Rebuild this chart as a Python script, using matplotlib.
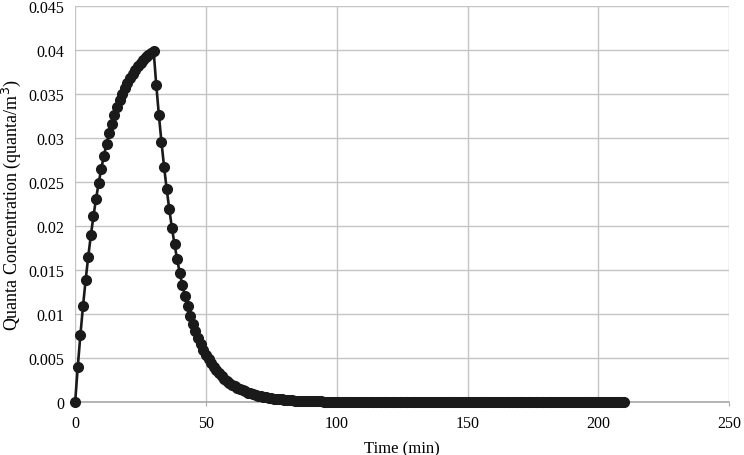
import numpy as np
import matplotlib
matplotlib.use("Agg")
import matplotlib.pyplot as plt

# time in minutes, one reading per minute
time_min = np.arange(0, 211)

# rising part (0-30 min)
rise = [0.0, 0.00400, 0.00761, 0.01089, 0.01385, 0.01653, 0.01895, 0.02114,
        0.02313, 0.02492, 0.02655, 0.02802, 0.02935, 0.03055, 0.03164, 0.03263,
        0.03352, 0.03433, 0.03506, 0.03572, 0.03632, 0.03686, 0.03735, 0.03779,
        0.03819, 0.03855, 0.03888, 0.03918, 0.03945, 0.03969, 0.03991]

# decay part (31-210 min)
decay = [0.03610, 0.03267, 0.02956, 0.02675, 0.02420, 0.02190, 0.01981, 0.01793,
         0.01622, 0.01468, 0.01328, 0.01202, 0.01087, 0.00984, 0.00890, 0.00806,
         0.00729, 0.00660, 0.00597, 0.00540, 0.00489, 0.00442, 0.00400, 0.00362,
         0.00328, 0.00296, 0.00268, 0.00243, 0.00220, 0.00199, 0.00180, 0.00163,
         0.00147, 0.00133, 0.00121, 0.00109, 0.00099, 0.00089, 0.00081, 0.00073,
         0.00066, 0.00060, 0.00054, 0.00049, 0.00044, 0.00040, 0.00036, 0.00033,
         0.00030, 0.00027, 0.00024, 0.00022, 0.00020, 0.00018, 0.00016, 0.00015,
         0.00013, 0.00012, 0.00011, 0.00010, 0.00009, 0.00008, 0.00007, 0.00007,
         0.00006, 0.00005, 0.00005, 0.00004, 0.00004, 0.00004, 0.00003, 0.00003,
         0.00003, 0.00002, 0.00002, 0.00002, 0.00002, 0.00002, 0.00001, 0.00001,
         0.00001, 0.00001, 0.00001, 0.00001, 0.00001, 0.00001, 0.00001, 0.00001,
         0.00001, 0.0, 0.0, 0.0, 0.0, 0.0, 0.0, 0.0, 0.0, 0.0, 0.0,
         0.0, 0.0, 0.0, 0.0, 0.0, 0.0, 0.0, 0.0, 0.0, 0.0,
         0.0, 0.0, 0.0, 0.0, 0.0, 0.0, 0.0, 0.0, 0.0, 0.0,
         0.0, 0.0, 0.0, 0.0, 0.0, 0.0, 0.0, 0.0, 0.0, 0.0,
         0.0, 0.0, 0.0, 0.0, 0.0, 0.0, 0.0, 0.0, 0.0, 0.0,
         0.0, 0.0, 0.0, 0.0, 0.0, 0.0, 0.0, 0.0, 0.0, 0.0,
         0.0, 0.0, 0.0, 0.0, 0.0, 0.0, 0.0, 0.0, 0.0, 0.0,
         0.0, 0.0, 0.0, 0.0, 0.0, 0.0, 0.0, 0.0, 0.0, 0.0,
         0.0, 0.0, 0.0, 0.0, 0.0, 0.0, 0.0, 0.0, 0.0, 0.0,
         0.0]

conc = np.array(rise + decay)

x_ticks = [0, 50, 100, 150, 200, 250]
y_ticks = [0, 0.005, 0.01, 0.015, 0.02, 0.025, 0.03, 0.035, 0.04, 0.045]
y_labels = ["0", "0.005", "0.01", "0.015", "0.02", "0.025", "0.03", "0.035", "0.04", "0.045"]

plt.rcParams['font.family'] = ['Liberation Serif', 'DejaVu Serif']

fig = plt.figure(figsize=(7.44, 4.56), dpi=100)
ax = fig.add_axes([0.101, 0.116, 0.879, 0.868])

ax.plot(time_min[:len(conc)], conc, '-o', color='#1a1a1a', lw=1.9,
        markersize=7, zorder=3, clip_on=False)

ax.set_xlim(0, 250)
ax.set_ylim(0, 0.045)
ax.set_xticks(x_ticks)
ax.set_yticks(y_ticks)
ax.set_yticklabels(y_labels)
ax.grid(True, color='#c4c4c4', lw=1.0)
ax.set_axisbelow(True)
for s in ['top', 'right', 'left']:
    ax.spines[s].set_visible(False)
ax.spines['bottom'].set_color('#a8a8a8')
ax.spines['bottom'].set_linewidth(1.2)
ax.tick_params(axis='x', length=3, color='#a8a8a8', labelsize=11.5, pad=6)
ax.tick_params(axis='y', length=0, labelsize=11.5, pad=8)

ax.set_xlabel("Time (min)", fontsize=12, labelpad=7)
ax.set_ylabel("Quanta Concentration (quanta/m$^3$)", fontsize=13, labelpad=4)

fig.savefig("out.png", dpi=100)
